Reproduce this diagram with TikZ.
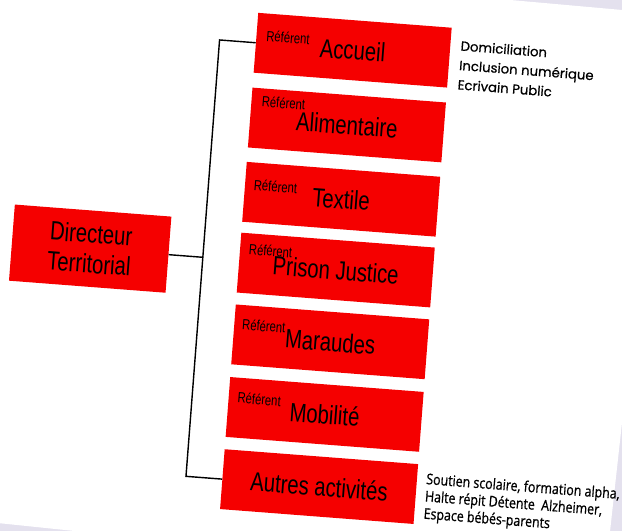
\documentclass[tikz,border=0pt]{standalone}
\usepackage{fontspec}
\setmainfont{Liberation Sans}
\newfontfamily\boxfont[FakeStretch=0.77]{Liberation Sans}
\newfontfamily\notefont[FakeBold=0.6]{Poppins}
\newfontfamily\smallnotefont[FakeStretch=0.84,FakeBold=0.8]{Open Sans}
\usetikzlibrary{positioning,calc}
\definecolor{boxred}{RGB}{245,0,0}
\definecolor{pagebg}{RGB}{228,225,238}

\begin{document}
\begin{tikzpicture}[x=0.03cm,y=-0.03cm]
	\tikzset{
		unit/.style={fill=boxred,minimum width=5.82cm,minimum height=1.8cm,inner sep=0pt,align=center,
			font=\boxfont\fontsize{22.5}{25.6}\selectfont},
		boss/.style={unit,minimum width=4.71cm,minimum height=2.29cm},
		refnote/.style={anchor=north west,inner sep=0pt,font=\boxfont\fontsize{12.5}{14}\selectfont},
		tasks/.style={anchor=north west,inner sep=0pt,align=left},
		link/.style={line width=1.2pt}
	}
	\useasboundingbox (0,0) rectangle (622,531);
	\clip (0,0) rectangle (622,531);

	%% slide page
	\fill[pagebg] (0,0) rectangle (622,531);
	\fill[white] (-60,-51) -- (667,14) -- (604,586) -- (-60,517) -- cycle;

	\begin{scope}[rotate=-4.4,transform shape]
		\node[boss] (dir) at (109,241) {Directeur\\Territorial};
		\node[unit] (acc) at (355.5,23) {Accueil};
		\node[unit] (alim) at (355.5,98) {Alimentaire};
		\node[unit] (text) at (355.5,172.5) {Textile};
		\node[unit] (pris) at (355.5,243.5) {Prison Justice};
		\node[unit] (mar) at (355.5,315.5) {Maraudes};
		\node[unit] (mob) at (355.5,388.3) {Mobilité};
		\node[unit] (aut) at (355.5,460.7) {Autres activités};

		%% referents
		\node[refnote] (accref) at ($(acc.north west)+(10,17)$) {Référent};
		\node[refnote] (alimref) at ($(alim.north west)+(10.5,7.5)$) {Référent};
		\node[refnote] (textref) at ($(text.north west)+(9,17)$) {Référent};
		\node[refnote] (prisref) at ($(pris.north west)+(9,10.5)$) {Référent};
		\node[refnote] (marref) at ($(mar.north west)+(8,14)$) {Référent};
		\node[refnote] (mobref) at ($(mob.north west)+(9,14.5)$) {Référent};

		\node[tasks,font=\notefont\fontsize{11.3}{16.6}\selectfont] (accnote)
			at ($(acc.north east)+(10,12)$) {Domiciliation\\Inclusion numérique\\Ecrivain Public};
		\node[tasks,font=\smallnotefont\fontsize{12.6}{14.8}\selectfont] (autnote)
			at ($(aut.north east)+(9,8)$) {Soutien scolaire, formation alpha,\\Halte répit Détente\ \ Alzheimer,\\Espace bébés-parents};

		%% connectors
		\coordinate (bustop) at (222,23);
		\coordinate (busmid) at (222,241);
		\coordinate (busbot) at (222,460.7);
		\draw[link] (acc.west) -- (bustop) -- (busbot) -- (aut.west);
		\draw[link] (dir.east) -- (busmid);
	\end{scope}
\end{tikzpicture}
\end{document}
